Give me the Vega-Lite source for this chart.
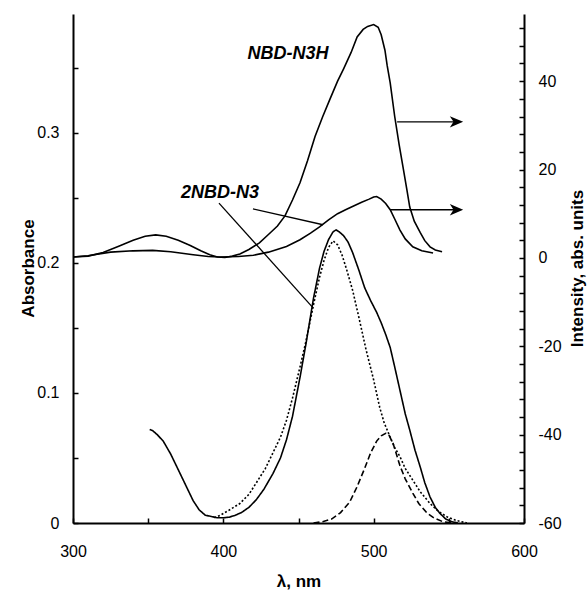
{
  "$schema": "https://vega.github.io/schema/vega-lite/v6.json",
  "width": 451,
  "height": 509,
  "autosize": {"type": "none"},
  "padding": {"left": 73, "top": 14, "right": 63, "bottom": 71},
  "background": "white",
  "config": {
    "view": {"stroke": null},
    "axis": {
      "grid": false,
      "domainColor": "black",
      "domainWidth": 2,
      "tickColor": "black",
      "tickWidth": 1.5,
      "tickSize": -5,
      "labelFont": "Liberation Sans",
      "labelFontSize": 16,
      "labelColor": "black",
      "labelOverlap": false,
      "titleFont": "Liberation Sans",
      "titleFontSize": 17,
      "titleFontWeight": "bold",
      "titleColor": "black"
    }
  },
  "datasets": {
    "abs": [
      {"series": "solid", "nm": 351, "A": 0.072},
      {"series": "solid", "nm": 353, "A": 0.071},
      {"series": "solid", "nm": 356, "A": 0.068},
      {"series": "solid", "nm": 360, "A": 0.063},
      {"series": "solid", "nm": 365, "A": 0.053},
      {"series": "solid", "nm": 370, "A": 0.041},
      {"series": "solid", "nm": 375, "A": 0.029},
      {"series": "solid", "nm": 380, "A": 0.017},
      {"series": "solid", "nm": 384, "A": 0.010},
      {"series": "solid", "nm": 388, "A": 0.006},
      {"series": "solid", "nm": 392, "A": 0.005},
      {"series": "solid", "nm": 396, "A": 0.004},
      {"series": "solid", "nm": 400, "A": 0.004},
      {"series": "solid", "nm": 404, "A": 0.0045},
      {"series": "solid", "nm": 408, "A": 0.006},
      {"series": "solid", "nm": 412, "A": 0.008},
      {"series": "solid", "nm": 417, "A": 0.012},
      {"series": "solid", "nm": 422, "A": 0.018},
      {"series": "solid", "nm": 427, "A": 0.026},
      {"series": "solid", "nm": 433, "A": 0.038},
      {"series": "solid", "nm": 438, "A": 0.050},
      {"series": "solid", "nm": 442, "A": 0.064},
      {"series": "solid", "nm": 446, "A": 0.082},
      {"series": "solid", "nm": 451, "A": 0.112},
      {"series": "solid", "nm": 455, "A": 0.138},
      {"series": "solid", "nm": 460, "A": 0.173},
      {"series": "solid", "nm": 464, "A": 0.196},
      {"series": "solid", "nm": 467, "A": 0.209},
      {"series": "solid", "nm": 470, "A": 0.218},
      {"series": "solid", "nm": 473, "A": 0.224},
      {"series": "solid", "nm": 475, "A": 0.2254},
      {"series": "solid", "nm": 477, "A": 0.224},
      {"series": "solid", "nm": 480, "A": 0.221},
      {"series": "solid", "nm": 483, "A": 0.216},
      {"series": "solid", "nm": 486, "A": 0.208},
      {"series": "solid", "nm": 490, "A": 0.195},
      {"series": "solid", "nm": 494, "A": 0.181},
      {"series": "solid", "nm": 498, "A": 0.171},
      {"series": "solid", "nm": 502, "A": 0.162},
      {"series": "solid", "nm": 505, "A": 0.154},
      {"series": "solid", "nm": 508, "A": 0.145},
      {"series": "solid", "nm": 511, "A": 0.135},
      {"series": "solid", "nm": 514, "A": 0.120},
      {"series": "solid", "nm": 517.5, "A": 0.102},
      {"series": "solid", "nm": 521, "A": 0.084},
      {"series": "solid", "nm": 524, "A": 0.0715},
      {"series": "solid", "nm": 527.5, "A": 0.056},
      {"series": "solid", "nm": 531, "A": 0.043},
      {"series": "solid", "nm": 534, "A": 0.031},
      {"series": "solid", "nm": 537.5, "A": 0.020},
      {"series": "solid", "nm": 541, "A": 0.012},
      {"series": "solid", "nm": 544, "A": 0.0075},
      {"series": "solid", "nm": 548, "A": 0.003},
      {"series": "solid", "nm": 552, "A": 0.001},
      {"series": "solid", "nm": 556, "A": 0.0},
      {"series": "dotted", "nm": 394, "A": 0.004},
      {"series": "dotted", "nm": 398, "A": 0.006},
      {"series": "dotted", "nm": 404, "A": 0.010},
      {"series": "dotted", "nm": 411, "A": 0.015},
      {"series": "dotted", "nm": 417, "A": 0.022},
      {"series": "dotted", "nm": 422, "A": 0.031},
      {"series": "dotted", "nm": 428, "A": 0.042},
      {"series": "dotted", "nm": 433, "A": 0.054},
      {"series": "dotted", "nm": 438, "A": 0.066},
      {"series": "dotted", "nm": 442, "A": 0.079},
      {"series": "dotted", "nm": 446, "A": 0.096},
      {"series": "dotted", "nm": 451, "A": 0.120},
      {"series": "dotted", "nm": 455, "A": 0.140},
      {"series": "dotted", "nm": 460, "A": 0.168},
      {"series": "dotted", "nm": 464, "A": 0.189},
      {"series": "dotted", "nm": 467, "A": 0.202},
      {"series": "dotted", "nm": 470, "A": 0.212},
      {"series": "dotted", "nm": 473, "A": 0.217},
      {"series": "dotted", "nm": 476, "A": 0.214},
      {"series": "dotted", "nm": 479, "A": 0.206},
      {"series": "dotted", "nm": 482, "A": 0.195},
      {"series": "dotted", "nm": 486, "A": 0.179},
      {"series": "dotted", "nm": 490, "A": 0.159},
      {"series": "dotted", "nm": 495, "A": 0.133},
      {"series": "dotted", "nm": 500, "A": 0.110},
      {"series": "dotted", "nm": 504, "A": 0.089},
      {"series": "dotted", "nm": 507, "A": 0.077},
      {"series": "dotted", "nm": 511, "A": 0.066},
      {"series": "dotted", "nm": 514, "A": 0.058},
      {"series": "dotted", "nm": 517.5, "A": 0.051},
      {"series": "dotted", "nm": 521, "A": 0.042},
      {"series": "dotted", "nm": 526, "A": 0.033},
      {"series": "dotted", "nm": 531, "A": 0.024},
      {"series": "dotted", "nm": 537.5, "A": 0.015},
      {"series": "dotted", "nm": 543, "A": 0.009},
      {"series": "dotted", "nm": 549, "A": 0.0046},
      {"series": "dotted", "nm": 555, "A": 0.002},
      {"series": "dotted", "nm": 562, "A": 0.0},
      {"series": "dashed", "nm": 460, "A": 0.0},
      {"series": "dashed", "nm": 466, "A": 0.001},
      {"series": "dashed", "nm": 472, "A": 0.003},
      {"series": "dashed", "nm": 478, "A": 0.008},
      {"series": "dashed", "nm": 484, "A": 0.016},
      {"series": "dashed", "nm": 489, "A": 0.028},
      {"series": "dashed", "nm": 494, "A": 0.042},
      {"series": "dashed", "nm": 498, "A": 0.054},
      {"series": "dashed", "nm": 502, "A": 0.063},
      {"series": "dashed", "nm": 505, "A": 0.067},
      {"series": "dashed", "nm": 508, "A": 0.069},
      {"series": "dashed", "nm": 510, "A": 0.068},
      {"series": "dashed", "nm": 513, "A": 0.061},
      {"series": "dashed", "nm": 517.5, "A": 0.044},
      {"series": "dashed", "nm": 521, "A": 0.034},
      {"series": "dashed", "nm": 526, "A": 0.023},
      {"series": "dashed", "nm": 530, "A": 0.015},
      {"series": "dashed", "nm": 535.5, "A": 0.0077},
      {"series": "dashed", "nm": 540, "A": 0.004},
      {"series": "dashed", "nm": 546, "A": 0.001},
      {"series": "dashed", "nm": 552, "A": 0.0}
    ],
    "int": [
      {"series": "NBD-N3H", "nm": 300, "I": 0.2},
      {"series": "NBD-N3H", "nm": 310, "I": 0.4},
      {"series": "NBD-N3H", "nm": 320, "I": 1.2},
      {"series": "NBD-N3H", "nm": 330, "I": 2.6},
      {"series": "NBD-N3H", "nm": 340, "I": 4.0},
      {"series": "NBD-N3H", "nm": 348, "I": 4.9},
      {"series": "NBD-N3H", "nm": 355, "I": 5.2},
      {"series": "NBD-N3H", "nm": 362, "I": 4.9},
      {"series": "NBD-N3H", "nm": 370, "I": 4.0},
      {"series": "NBD-N3H", "nm": 378, "I": 2.8},
      {"series": "NBD-N3H", "nm": 385, "I": 1.6},
      {"series": "NBD-N3H", "nm": 391, "I": 0.7},
      {"series": "NBD-N3H", "nm": 396, "I": 0.2},
      {"series": "NBD-N3H", "nm": 401, "I": 0.1},
      {"series": "NBD-N3H", "nm": 406, "I": 0.4},
      {"series": "NBD-N3H", "nm": 411, "I": 0.9},
      {"series": "NBD-N3H", "nm": 417, "I": 1.9},
      {"series": "NBD-N3H", "nm": 424, "I": 3.4},
      {"series": "NBD-N3H", "nm": 430, "I": 5.3},
      {"series": "NBD-N3H", "nm": 436, "I": 7.2},
      {"series": "NBD-N3H", "nm": 441, "I": 9.5},
      {"series": "NBD-N3H", "nm": 446, "I": 13.1},
      {"series": "NBD-N3H", "nm": 451, "I": 17.0},
      {"series": "NBD-N3H", "nm": 456, "I": 22.0},
      {"series": "NBD-N3H", "nm": 461, "I": 27.5},
      {"series": "NBD-N3H", "nm": 466, "I": 31.9},
      {"series": "NBD-N3H", "nm": 471, "I": 36.0},
      {"series": "NBD-N3H", "nm": 476, "I": 40.0},
      {"series": "NBD-N3H", "nm": 480, "I": 42.8},
      {"series": "NBD-N3H", "nm": 485, "I": 46.5},
      {"series": "NBD-N3H", "nm": 489, "I": 50.0},
      {"series": "NBD-N3H", "nm": 493, "I": 51.7},
      {"series": "NBD-N3H", "nm": 496, "I": 52.4},
      {"series": "NBD-N3H", "nm": 500, "I": 52.8},
      {"series": "NBD-N3H", "nm": 503, "I": 52.2},
      {"series": "NBD-N3H", "nm": 505, "I": 50.5},
      {"series": "NBD-N3H", "nm": 507.5, "I": 47.0},
      {"series": "NBD-N3H", "nm": 509, "I": 43.5},
      {"series": "NBD-N3H", "nm": 511, "I": 39.6},
      {"series": "NBD-N3H", "nm": 514, "I": 32.0},
      {"series": "NBD-N3H", "nm": 517, "I": 25.5},
      {"series": "NBD-N3H", "nm": 519.5, "I": 20.6},
      {"series": "NBD-N3H", "nm": 522, "I": 15.6},
      {"series": "NBD-N3H", "nm": 524, "I": 11.5},
      {"series": "NBD-N3H", "nm": 527, "I": 8.3},
      {"series": "NBD-N3H", "nm": 531, "I": 5.7},
      {"series": "NBD-N3H", "nm": 534, "I": 3.9},
      {"series": "NBD-N3H", "nm": 537.5, "I": 2.5},
      {"series": "NBD-N3H", "nm": 541, "I": 1.8},
      {"series": "NBD-N3H", "nm": 545.5, "I": 1.4},
      {"series": "2NBD-N3", "nm": 300, "I": 0.2},
      {"series": "2NBD-N3", "nm": 310, "I": 0.5},
      {"series": "2NBD-N3", "nm": 325, "I": 1.3},
      {"series": "2NBD-N3", "nm": 340, "I": 1.6},
      {"series": "2NBD-N3", "nm": 353, "I": 1.7},
      {"series": "2NBD-N3", "nm": 365, "I": 1.4},
      {"series": "2NBD-N3", "nm": 380, "I": 0.7},
      {"series": "2NBD-N3", "nm": 390, "I": 0.3},
      {"series": "2NBD-N3", "nm": 398, "I": 0.2},
      {"series": "2NBD-N3", "nm": 410, "I": 0.3},
      {"series": "2NBD-N3", "nm": 420, "I": 0.6},
      {"series": "2NBD-N3", "nm": 430, "I": 1.3},
      {"series": "2NBD-N3", "nm": 442, "I": 2.6},
      {"series": "2NBD-N3", "nm": 451, "I": 4.1},
      {"series": "2NBD-N3", "nm": 458, "I": 5.6},
      {"series": "2NBD-N3", "nm": 464, "I": 7.0},
      {"series": "2NBD-N3", "nm": 470, "I": 8.6},
      {"series": "2NBD-N3", "nm": 476, "I": 10.0},
      {"series": "2NBD-N3", "nm": 482, "I": 11.0},
      {"series": "2NBD-N3", "nm": 487, "I": 11.8},
      {"series": "2NBD-N3", "nm": 492, "I": 12.6},
      {"series": "2NBD-N3", "nm": 497, "I": 13.3},
      {"series": "2NBD-N3", "nm": 500, "I": 13.8},
      {"series": "2NBD-N3", "nm": 502, "I": 13.9},
      {"series": "2NBD-N3", "nm": 505, "I": 13.3},
      {"series": "2NBD-N3", "nm": 508, "I": 12.3},
      {"series": "2NBD-N3", "nm": 511, "I": 10.9},
      {"series": "2NBD-N3", "nm": 514, "I": 8.8},
      {"series": "2NBD-N3", "nm": 517.5, "I": 6.3},
      {"series": "2NBD-N3", "nm": 521, "I": 4.3},
      {"series": "2NBD-N3", "nm": 526, "I": 2.5},
      {"series": "2NBD-N3", "nm": 532, "I": 1.6},
      {"series": "2NBD-N3", "nm": 539.5, "I": 1.1}
    ],
    "rules": [
      {"nm": 397.1, "nm2": 459.7, "I": 12.4, "I2": -11.3},
      {"nm": 419.7, "nm2": 466.3, "I": 11.1, "I2": 7.5},
      {"nm": 515.6, "nm2": 556.0, "I": 30.8, "I2": 30.8},
      {"nm": 511.0, "nm2": 556.0, "I": 10.9, "I2": 10.9}
    ],
    "heads": [
      {"nm": 555.1, "I": 30.8},
      {"nm": 555.1, "I": 10.9}
    ],
    "notes": [
      {"nm": 443.0, "I": 46.2, "label": "NBD-N3H"},
      {"nm": 397.8, "I": 14.7, "label": "2NBD-N3"}
    ]
  },
  "layer": [
    {
      "data": {"name": "abs"},
      "mark": {"type": "line", "color": "black", "strokeWidth": 1.6},
      "encoding": {
        "x": {
          "field": "nm", "type": "quantitative",
          "scale": {"domain": [300, 600], "nice": false, "zero": false},
          "axis": {
            "orient": "bottom",
            "title": "λ, nm",
            "values": [300, 350, 400, 450, 500, 550, 600],
            "tickCount": 100,
            "labelExpr": "datum.value % 100 === 0 ? datum.label : ''",
            "labelPadding": 25,
            "labelFlush": false,
            "labelOverlap": false,
            "titleX": 225.5,
            "titleY": 58,
            "titleBaseline": "middle",
            "titleAlign": "center"
          }
        },
        "y": {
          "field": "A", "type": "quantitative",
          "scale": {"domain": [0, 0.3915], "nice": false, "zero": false},
          "axis": {
            "orient": "left",
            "title": "Absorbance",
            "values": [0, 0.05, 0.1, 0.15, 0.2, 0.25, 0.3, 0.35],
            "tickCount": 100,
            "labelExpr": "round(datum.value*20) % 2 === 0 ? toString(round(datum.value*10)/10) : ''",
            "labelPadding": 19,
            "labelFlush": false,
            "labelOverlap": false,
            "titleAngle": 270,
            "titleX": -45,
            "titleY": 254,
            "titleBaseline": "middle",
            "titleAlign": "center"
          }
        },
        "strokeDash": {
          "field": "series", "type": "nominal",
          "scale": {"domain": ["solid", "dotted", "dashed"], "range": [[1, 0], [2, 2], [6, 3]]},
          "legend": null
        }
      }
    },
    {
      "layer": [
        {
          "data": {"name": "int"},
          "mark": {"type": "line", "color": "black", "strokeWidth": 1.6},
          "encoding": {
            "x": {"field": "nm", "type": "quantitative"},
            "y": {
              "field": "I", "type": "quantitative",
              "scale": {"domain": [-60, 55.2], "nice": false, "zero": false},
              "axis": {
                "orient": "right",
                "title": "Intensity, abs. units",
                "values": [-60, -56, -52, -48, -44, -40, -36, -32, -28, -24, -20, -16, -12, -8, -4, 0, 4, 8, 12, 16, 20, 24, 28, 32, 36, 40, 44, 48, 52],
                "tickCount": 100,
                "labelExpr": "datum.value % 20 === 0 ? toString(datum.value) : ''",
                "labelPadding": 19,
                "labelFlush": false,
                "labelOverlap": false,
                "titleAngle": 270,
                "titleX": 53,
                "titleY": 254,
                "titleBaseline": "middle",
                "titleAlign": "center"
              }
            },
            "detail": {"field": "series", "type": "nominal"}
          }
        },
        {
          "data": {"name": "rules"},
          "mark": {"type": "rule", "color": "black", "strokeWidth": 1.3},
          "encoding": {
            "x": {"field": "nm", "type": "quantitative"},
            "x2": {"field": "nm2"},
            "y": {"field": "I", "type": "quantitative"},
            "y2": {"field": "I2"}
          }
        },
        {
          "data": {"name": "heads"},
          "mark": {"type": "point", "shape": "M1,0L-1,-0.85L-0.45,0L-1,0.85Z", "filled": true, "color": "black", "opacity": 1, "size": 178, "strokeWidth": 0},
          "encoding": {
            "x": {"field": "nm", "type": "quantitative"},
            "y": {"field": "I", "type": "quantitative"}
          }
        },
        {
          "data": {"name": "notes"},
          "mark": {"type": "text", "font": "Liberation Sans", "fontSize": 18, "fontWeight": "bold", "fontStyle": "italic", "color": "black", "align": "center", "baseline": "middle"},
          "encoding": {
            "x": {"field": "nm", "type": "quantitative"},
            "y": {"field": "I", "type": "quantitative"},
            "text": {"field": "label"}
          }
        }
      ]
    }
  ],
  "resolve": {"scale": {"y": "independent"}}
}
